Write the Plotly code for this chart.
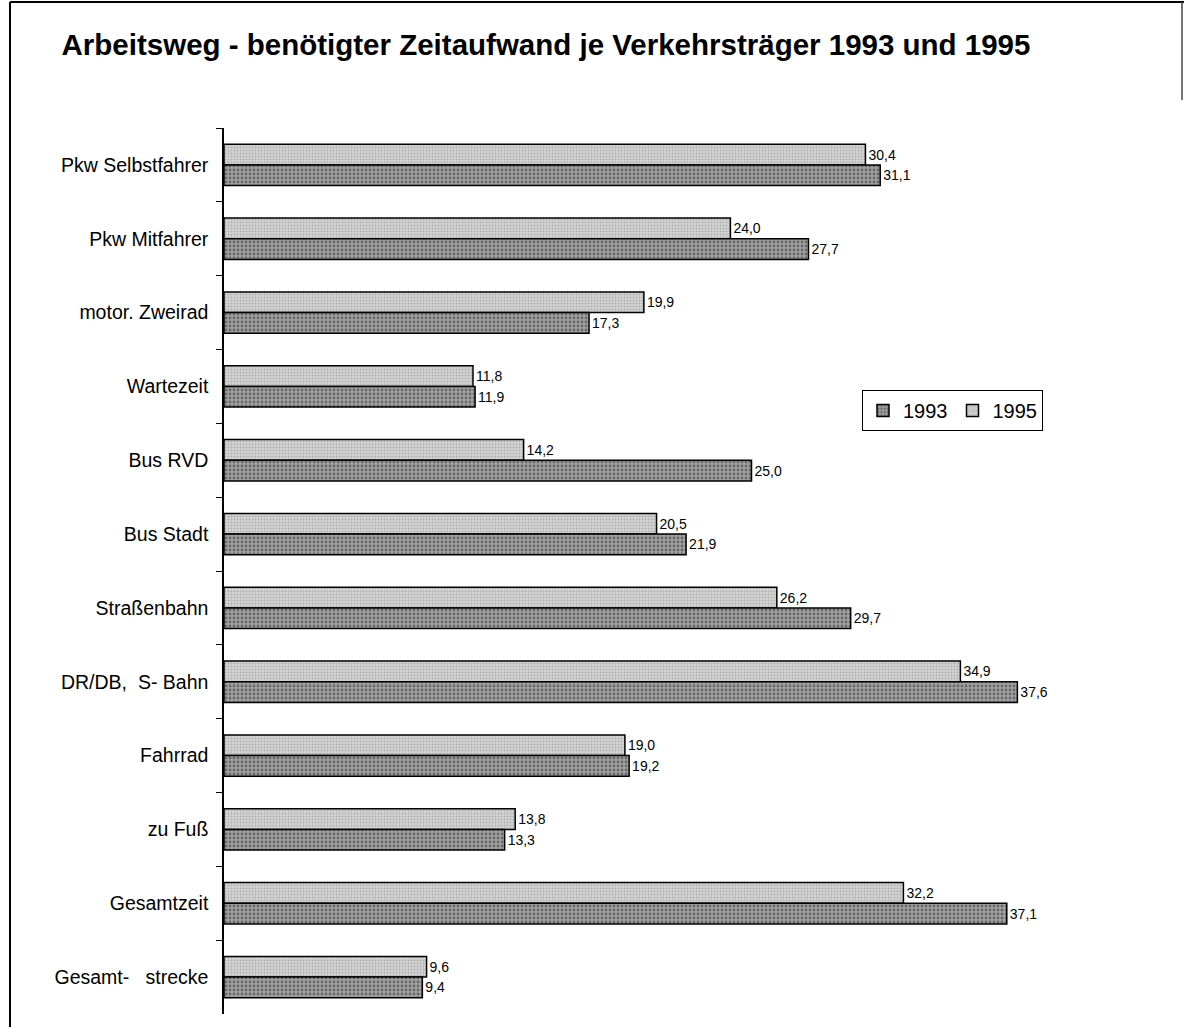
import plotly.graph_objects as go

categories = ["Pkw Selbstfahrer", "Pkw Mitfahrer", "motor. Zweirad", "Wartezeit",
              "Bus RVD", "Bus Stadt", "Straßenbahn", "DR/DB,  S- Bahn", "Fahrrad",
              "zu Fuß", "Gesamtzeit", "Gesamt-   strecke"]
v1995 = [30.4, 24.0, 19.9, 11.8, 14.2, 20.5, 26.2, 34.9, 19.0, 13.8, 32.2, 9.6]
v1993 = [31.1, 27.7, 17.3, 11.9, 25.0, 21.9, 29.7, 37.6, 19.2, 13.3, 37.1, 9.4]

W, H = 1184, 1027
L, R, T, B = 224, 84, 128, 13
pw, ph = W - L - R, H - T - B

def px_x(p):
    return (p - L) / pw

def px_y(p):
    return 1 - (p - T) / ph

font = "Liberation Sans, Arial, sans-serif"

fig = go.Figure()
fig.add_trace(go.Bar(
    y=categories, x=v1995, name="1995", orientation="h",
    marker=dict(color="#d0d0d0", line=dict(color="black", width=1.5),
                pattern=dict(shape=".", fgcolor="#888888", bgcolor="#d4d4d4",
                             size=3, solidity=0.35)),
    texttemplate="%{x:.1f}", textposition="outside", constraintext="none",
    cliponaxis=False, textfont=dict(size=14, color="black", family=font),
    legendrank=2,
))
fig.add_trace(go.Bar(
    y=categories, x=v1993, name="1993", orientation="h",
    marker=dict(color="#9a9a9a", line=dict(color="black", width=1.5),
                pattern=dict(shape=".", fgcolor="#2e2e2e", bgcolor="#a2a2a2",
                             size=4, solidity=0.4)),
    texttemplate="%{x:.1f}", textposition="outside", constraintext="none",
    cliponaxis=False, textfont=dict(size=14, color="black", family=font),
    legendrank=1,
))

line = dict(color="black", width=2)
shapes = [
    dict(type="line", xref="paper", yref="paper", x0=px_x(10), x1=px_x(10),
         y0=px_y(2), y1=px_y(H + 5), line=line),
    dict(type="line", xref="paper", yref="paper", x0=px_x(10), x1=px_x(W + 5),
         y0=px_y(2), y1=px_y(2), line=line),
    dict(type="line", xref="paper", yref="paper", x0=px_x(1182), x1=px_x(1182),
         y0=px_y(2), y1=px_y(100), line=dict(color="#444", width=1.5)),
]

fig.update_layout(
    width=W, height=H,
    margin=dict(l=L, r=R, t=T, b=B, pad=0),
    paper_bgcolor="white", plot_bgcolor="white",
    separators=",.",
    barmode="group", bargap=0.44, bargroupgap=0,
    title=dict(text="<b>Arbeitsweg - benötigter Zeitaufwand je Verkehrsträger 1993 und 1995</b>",
               x=546 / W, xanchor="center", xref="container",
               y=1 - 45 / H, yanchor="middle", yref="container",
               font=dict(size=29.5, color="black", family=font)),
    xaxis=dict(range=[0, pw / 21.1], visible=False, showgrid=False, zeroline=False),
    yaxis=dict(autorange="reversed", type="category", showline=True,
               linecolor="black", linewidth=1.5, ticks="outside", ticklen=6,
               tickcolor="black", tickson="boundaries", ticklabelstandoff=10,
               tickfont=dict(size=19.5, color="black", family=font), showgrid=False),
    legend=dict(orientation="h", x=px_x(862), y=px_y(390), xanchor="left", yanchor="top",
                bordercolor="black", borderwidth=1, bgcolor="white",
                font=dict(size=20, color="black", family=font),
                traceorder="normal"),
    shapes=shapes,
    showlegend=True,
)

fig.write_html("out.html", config={"displayModeBar": False},
               post_script="document.body.style.margin='0';")
